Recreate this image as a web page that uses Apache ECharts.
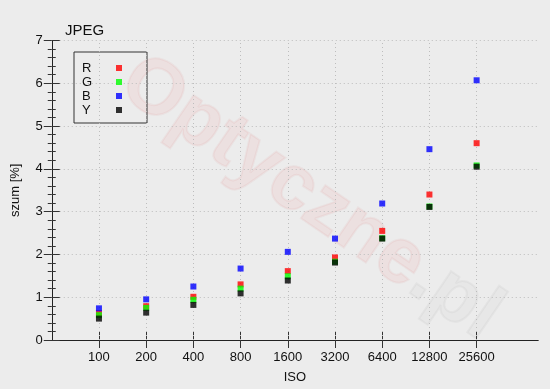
<!DOCTYPE html>
<html><head><meta charset="utf-8">
<script src="https://cdn.jsdelivr.net/npm/echarts@6/dist/echarts.min.js"></script>
<style>html,body{margin:0;padding:0;background:#ececec}#c{width:550px;height:389px}</style>
</head><body><div id="c"></div>
<script>
var isoLabels = ['100','200','400','800','1600','3200','6400','12800','25600'];
var seriesNames = ['R','G','B','Y'];
var valR = [0.63, 0.79, 1.01, 1.30, 1.61, 1.93, 2.55, 3.40, 4.60];
var valG = [0.58, 0.75, 0.94, 1.20, 1.49, 1.83, 2.38, 3.12, 4.08];
var valB = [0.74, 0.95, 1.25, 1.67, 2.06, 2.37, 3.19, 4.46, 6.07];
var valY = [0.50, 0.64, 0.82, 1.09, 1.39, 1.81, 2.37, 3.11, 4.05];
var colors = ['#ff0000', '#00ff00', '#0000ff', '#000000'];
var yTicks = [0,1,2,3,4,5,6,7];

var FONT = 'Liberation Sans';
var allVals = [valR, valG, valB, valY];
var positions = isoLabels.map(function(_, i){ return i + 1; });

function mk(vals){ return vals.map(function(v,i){ return [positions[i], v]; }); }

var series = seriesNames.map(function(n, k){
  return {
    name: n, type: 'scatter', symbol: 'rect', symbolSize: 6,
    itemStyle: {color: colors[k]},
    data: mk(allVals[k]), z: 5 + k
  };
});
series.push({
  type: 'scatter', data: [], silent: true,
  markLine: {
    silent: true, symbol: 'none', label: {show: false},
    lineStyle: {color: '#bdbdbd', type: [1, 3], width: 1},
    data: positions.map(function(p){ return {xAxis: p}; })
  }
});

var xBase = {
  type: 'value', min: 0, max: 10.3, interval: 1,
  axisLine: {show: true, lineStyle: {color: '#222', width: 1}},
  axisTick: {show: true, inside: true, length: 8, customValues: positions, lineStyle: {color: '#333'}},
  splitLine: {show: false}
};
var chart = echarts.init(document.getElementById('c'), null, {renderer: 'canvas'});
chart.setOption({
  backgroundColor: '#ececec',
  animation: false,
  textStyle: {fontFamily: FONT},
  title: {text: 'JPEG', left: 60, top: 18, textStyle: {fontFamily: FONT, fontSize: 15, fontWeight: 'normal', color: '#111'}},
  grid: {left: 51.75, right: 12, top: 40.5, bottom: 45},
  legend: {
    data: seriesNames, orient: 'vertical', left: 74, top: 52, align: 'right',
    itemWidth: 6, itemHeight: 6, itemGap: 0,
    padding: [9, 25, 6, 8],
    borderColor: '#333', borderWidth: 1,
    formatter: function(n){ return '{a|' + n + '}'; },
    textStyle: {fontFamily: FONT, fontSize: 13, color: '#111', lineHeight: 14,
      rich: {a: {width: 29, align: 'left', fontFamily: FONT, fontSize: 13, color: '#111', lineHeight: 14}}}
  },
  xAxis: [
    Object.assign({}, xBase, {
      position: 'bottom', name: 'ISO', nameLocation: 'middle', nameGap: 31,
      nameTextStyle: {fontFamily: FONT, fontSize: 13, color: '#111'},
      axisLabel: {show: true, customValues: positions, margin: 11, fontFamily: FONT, fontSize: 13, color: '#111',
        formatter: function(v){ var i = Math.round(v) - 1; return isoLabels[i] || ''; }}
    }),
    Object.assign({}, xBase, {position: 'top', axisLabel: {show: false}})
  ],
  yAxis: [
    {type: 'value', min: 0, max: 7, interval: 1, position: 'left',
      name: 'szum [%]', nameLocation: 'middle', nameGap: 30,
      nameTextStyle: {fontFamily: FONT, fontSize: 13, color: '#111'},
      axisLine: {show: true, lineStyle: {color: '#222'}},
      axisTick: {show: true, inside: true, length: 8, lineStyle: {color: '#333'}},
      minorTick: {show: true, splitNumber: 5, length: 4, lineStyle: {color: '#333'}},
      axisLabel: {margin: 9, fontFamily: FONT, fontSize: 13, color: '#111',
        formatter: function(v){ return yTicks.indexOf(v) >= 0 ? String(v) : ''; }},
      splitLine: {show: true, lineStyle: {color: '#bdbdbd', type: [1, 3]}}
    },
    {type: 'value', min: 0, max: 7, interval: 1, position: 'right',
      axisLine: {show: true, lineStyle: {color: '#222'}},
      axisTick: {show: true, inside: true, length: 8, lineStyle: {color: '#333'}},
      minorTick: {show: true, splitNumber: 5, length: 4, lineStyle: {color: '#333'}},
      axisLabel: {show: false}, splitLine: {show: false}
    }
  ],
  graphic: [
    {type: 'text', x: 128, y: 74, rotation: -0.6, z: 0, silent: true,
      style: {text: '{r|Optyczne}{g|.pl}', fontFamily: FONT, fontSize: 78, fontWeight: 'bold',
        verticalAlign: 'middle',
        rich: {
          r: {fontFamily: FONT, fontSize: 78, fontWeight: 'bold', fill: 'rgba(235,40,40,0.06)', stroke: 'rgba(200,60,60,0.06)', lineWidth: 2},
          g: {fontFamily: FONT, fontSize: 78, fontWeight: 'bold', fill: 'rgba(120,120,120,0.04)', stroke: 'rgba(110,110,110,0.06)', lineWidth: 2}
        }}}
  ],
  series: series
});
</script></body></html>
